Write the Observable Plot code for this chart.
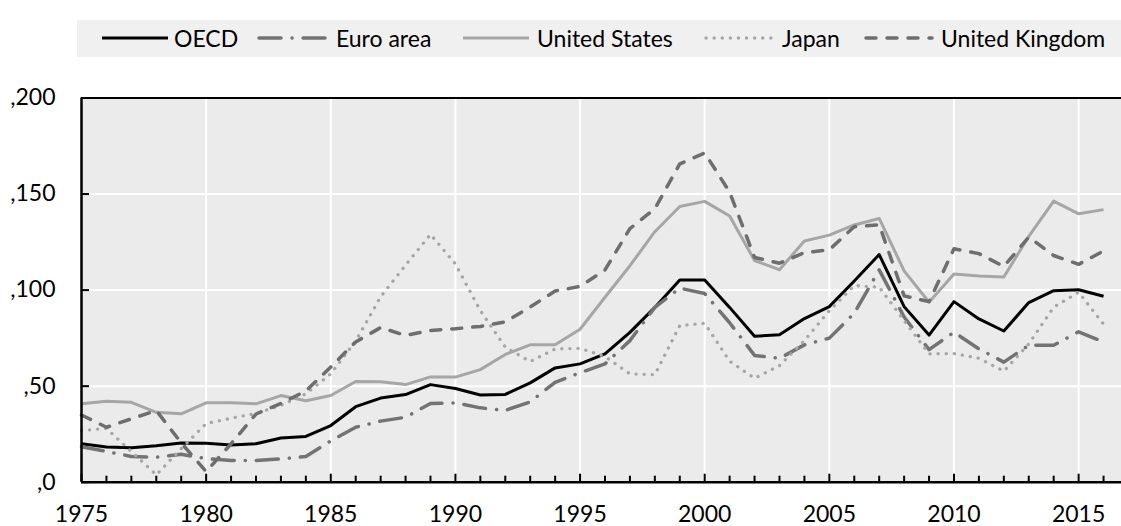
<!DOCTYPE html>
<html>
<head>
<meta charset="utf-8">
<script src="https://cdn.jsdelivr.net/npm/d3@7"></script>
<script src="https://cdn.jsdelivr.net/npm/@observablehq/plot@0.6"></script>
<style>
  html, body { margin: 0; padding: 0; background: #fff; }
  #wrap { position: relative; width: 1121px; height: 526px; font-family: Lato, "Open Sans", sans-serif; }
  #legend { position: relative; width: 1121px; height: 62px; }
  #legend .box { position: absolute; left: 77px; top: 20px; width: 1044px; height: 37px; background: #f0f0f0; }
  #legend .sample { position: absolute; top: 33px; }
  #legend .label { position: absolute; top: 24px; font-size: 23px; line-height: 28px; color: #000; white-space: nowrap; }
</style>
</head>
<body>
<div id="wrap">
  <div id="legend"><div class="box"></div></div>
  <div id="chart"></div>
</div>
<script>
// ---- data ----
const years = d3.range(1975, 2017);
const seriesNames = ["OECD", "Euro area", "United States", "Japan", "United Kingdom"];
const oecd = [20.0, 18.3, 17.9, 19.0, 20.4, 20.3, 19.4, 20.0, 23.0, 23.8,
  29.5, 39.3, 43.8, 45.6, 50.8, 48.8, 45.4, 45.7, 51.7, 59.5,
  61.6, 66.8, 78.0, 91.0, 105.3, 105.3, 91.0, 76.0, 76.7, 85.2,
  91.4, 104.7, 118.5, 91.4, 76.6, 94.0, 85.0, 78.7, 93.5, 99.7,
  100.2, 96.8];
const euroArea = [18.5, 16.0, 13.4, 13.0, 14.5, 12.3, 11.3, 11.3, 12.1, 13.4,
  21.5, 28.6, 31.8, 33.8, 41.0, 41.3, 38.7, 37.4, 41.8, 52.0,
  57.0, 61.6, 73.7, 91.0, 101.0, 98.2, 83.0, 66.0, 64.5, 71.5,
  75.0, 88.0, 110.5, 86.0, 69.0, 78.1, 69.4, 62.5, 71.3, 71.3,
  78.3, 73.0];
const unitedStates = [40.8, 42.2, 41.6, 36.4, 35.6, 41.3, 41.3, 40.8, 45.1, 42.4,
  45.1, 52.4, 52.3, 50.8, 54.8, 54.7, 58.6, 66.5, 71.5, 71.5,
  79.6, 96.3, 112.7, 130.4, 143.5, 146.2, 138.6, 115.4, 110.6, 125.6,
  128.6, 133.9, 137.3, 110.0, 93.7, 108.4, 107.4, 106.8, 128.0, 146.3,
  139.7, 141.9];
const japan = [26.9, 28.0, 16.0, 3.8, 17.5, 30.5, 33.3, 35.8, 40.0, 46.0,
  56.4, 73.5, 96.5, 113.0, 129.0, 113.6, 89.3, 70.3, 62.8, 69.4,
  69.7, 65.4, 56.4, 56.0, 81.5, 82.7, 63.0, 54.1, 60.7, 73.7,
  89.3, 102.4, 101.5, 84.1, 66.8, 67.0, 64.5, 57.8, 72.0, 91.1,
  98.9, 82.2];
const unitedKingdom = [35.0, 28.6, 33.0, 37.3, 20.5, 5.5, 20.0, 35.5, 41.0, 47.5,
  60.0, 73.0, 80.5, 76.4, 79.0, 79.9, 81.1, 83.4, 91.2, 99.5,
  101.9, 110.5, 132.0, 142.4, 165.7, 171.4, 151.0, 117.0, 114.0, 119.5,
  121.0, 133.0, 134.0, 97.0, 94.0, 121.5, 119.0, 112.3, 127.6, 118.0,
  113.4, 120.4];
const yTicks = [0, 50, 100, 150, 200];
const xTickLabels = [1975, 1980, 1985, 1990, 1995, 2000, 2005, 2010, 2015];

// ---- styles ----
const styles = [
  {stroke: "#000000", strokeWidth: 3, strokeDasharray: null, strokeLinecap: "butt"},
  {stroke: "#737373", strokeWidth: 3.5, strokeDasharray: "22,11,0.1,11", strokeLinecap: "round"},
  {stroke: "#a6a6a6", strokeWidth: 3, strokeDasharray: null, strokeLinecap: "butt"},
  {stroke: "#a6a6a6", strokeWidth: 3.3, strokeDasharray: "0.1,8", strokeLinecap: "round"},
  {stroke: "#6e6e6e", strokeWidth: 3.5, strokeDasharray: "10,11", strokeLinecap: "round"}
];
const allValues = [oecd, euroArea, unitedStates, japan, unitedKingdom];
const tables = allValues.map(vals => years.map((year, i) => ({year, value: vals[i]})));

// ---- legend ----
const sampleLeft = [100, 257, 461, 704, 864];
const labelLeft = [174, 336, 537, 782, 941];
const legend = document.getElementById("legend");
seriesNames.forEach((name, i) => {
  const s = styles[i];
  const ns = "http://www.w3.org/2000/svg";
  const svg = document.createElementNS(ns, "svg");
  svg.setAttribute("class", "sample");
  svg.setAttribute("width", 70);
  svg.setAttribute("height", 10);
  svg.style.left = sampleLeft[i] + "px";
  const ln = document.createElementNS(ns, "line");
  ln.setAttribute("x1", 2); ln.setAttribute("x2", 68);
  ln.setAttribute("y1", 5); ln.setAttribute("y2", 5);
  ln.setAttribute("stroke", s.stroke);
  ln.setAttribute("stroke-width", s.strokeWidth);
  ln.setAttribute("stroke-linecap", s.strokeLinecap);
  if (s.strokeDasharray) ln.setAttribute("stroke-dasharray", s.strokeDasharray);
  svg.appendChild(ln);
  legend.appendChild(svg);
  const lab = document.createElement("div");
  lab.className = "label";
  lab.style.left = labelLeft[i] + "px";
  lab.textContent = name;
  legend.appendChild(lab);
});

// ---- chart ----
const W = 1121, H = 464, mT = 35.5, mB = 44.3, mL = 81, mR = 0;
const plotW = W - mL - mR, plotH = H - mT - mB;
const gridX = xTickLabels.slice(1);
const gridY = yTicks.slice(1, -1);
const majorYears = xTickLabels;
const minorYears = years.filter(y => !majorYears.includes(y));

const chart = Plot.plot({
  width: W, height: H,
  marginTop: mT, marginBottom: mB, marginLeft: mL, marginRight: mR,
  x: {domain: [1975, 2016.72], label: null},
  y: {domain: [0, 200], label: null},
  style: {fontFamily: "Lato, 'Open Sans', sans-serif", fontSize: "23px", color: "#000", background: "transparent", overflow: "visible"},
  marks: [
    Plot.frame({fill: "#ebebeb", stroke: "none"}),
    Plot.ruleX(gridX, {x: d => d, stroke: "#ffffff", strokeWidth: 2}),
    Plot.ruleY(gridY, {y: d => d, stroke: "#ffffff", strokeWidth: 2}),
    ...tables.map((t, i) => Plot.line(t, {
      x: "year", y: "value",
      stroke: styles[i].stroke, strokeWidth: styles[i].strokeWidth,
      strokeDasharray: styles[i].strokeDasharray, strokeLinecap: styles[i].strokeLinecap,
      strokeLinejoin: "round"
    })),
    Plot.ruleY([200], {y: d => d, stroke: "#000", strokeWidth: 2}),
    Plot.ruleY([0], {y: d => d, stroke: "#000", strokeWidth: 2.5}),
    Plot.ruleX([1975], {x: d => d, stroke: "#000", strokeWidth: 2.5}),
    Plot.tickX(minorYears, {x: d => d, stroke: "#000", strokeWidth: 2, insetTop: plotH - 6}),
    Plot.tickX(majorYears, {x: d => d, stroke: "#000", strokeWidth: 2, insetTop: plotH - 8}),
    Plot.tickY(yTicks, {y: d => d, stroke: "#000", strokeWidth: 2, insetRight: plotW - 8}),
    Plot.axisY(yTicks, {tickSize: 0, tickPadding: 26, tickFormat: d => "," + d, fontSize: 23, label: null}),
    Plot.axisX(xTickLabels, {tickSize: 0, tickPadding: 23, tickFormat: d => String(d), fontSize: 23, label: null})
  ]
});
document.getElementById("chart").appendChild(chart);
</script>
</body>
</html>
